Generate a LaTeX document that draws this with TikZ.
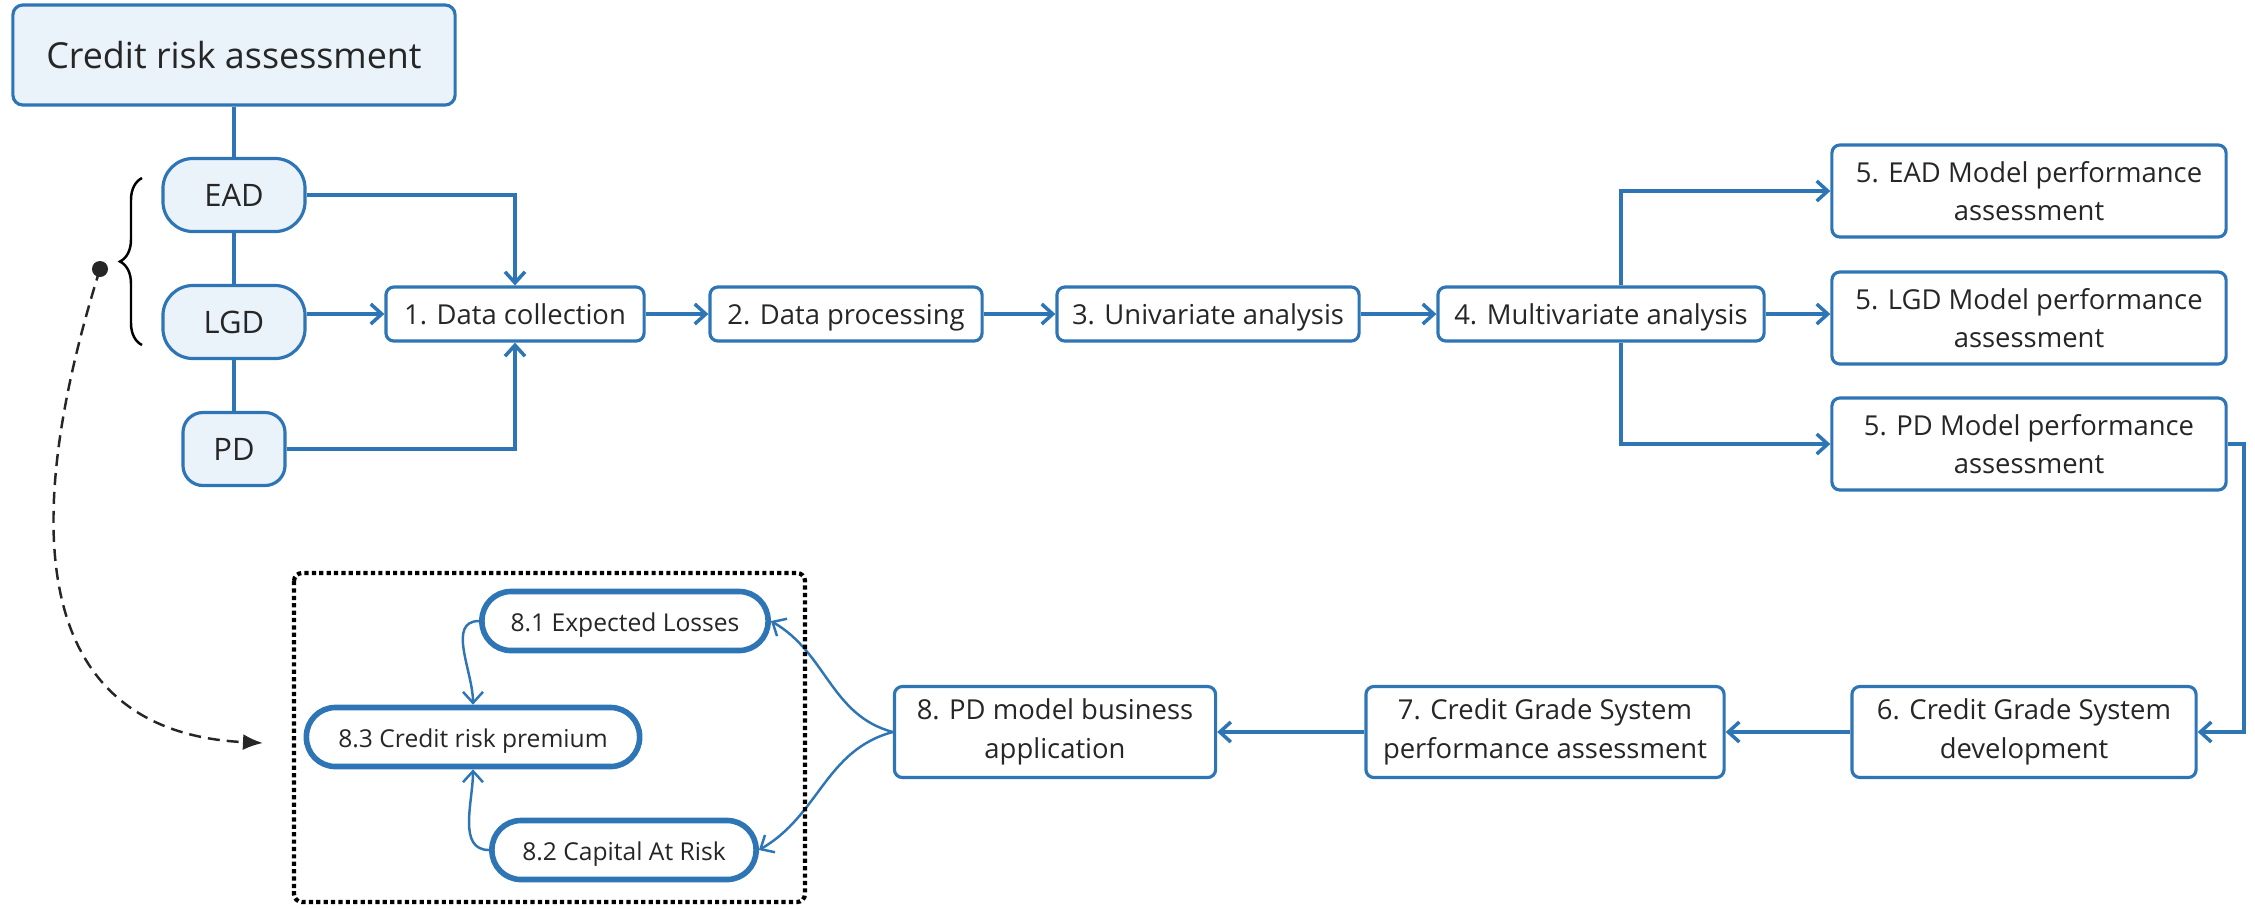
\documentclass[tikz,border=0pt]{standalone}
\usepackage{fontspec}
\setmainfont{Open Sans}
\usetikzlibrary{arrows.meta,decorations.pathreplacing}
\definecolor{boxblue}{RGB}{46,117,182}
\definecolor{boxfill}{RGB}{234,242,250}
\definecolor{inkgray}{RGB}{38,38,38}

\begin{document}
\begin{tikzpicture}[x=0.01cm, y=-0.01cm, text=inkgray,
        root/.style={draw=boxblue, fill=boxfill, line width=0.9pt, rounded corners=0.1cm, minimum width=4.42cm, minimum height=1cm, font=\fontsize{10.2}{12}\selectfont},
        risk/.style={draw=boxblue, fill=boxfill, line width=0.9pt, rounded corners=0.3cm, minimum width=1.42cm, minimum height=0.73cm, font=\fontsize{8.8}{10}\selectfont},
        stage/.style={draw=boxblue, fill=white, line width=0.9pt, rounded corners=0.08cm, inner sep=0pt, align=center, font=\fontsize{7.8}{11}\selectfont},
        onerow/.style={stage, minimum height=0.54cm, text height=1.5ex, text depth=0.35ex},
        usage/.style={draw=boxblue, fill=white, line width=1.6pt, rounded corners=0.29cm, minimum height=0.59cm, inner sep=0pt, text height=1.5ex, text depth=0.35ex, font=\fontsize{7}{8}\selectfont},
        link/.style={draw=boxblue, line width=1pt},
        flow/.style={link, -{Straight Barb[length=1.1mm,width=2mm]}},
        curvelink/.style={flow, line width=0.7pt},
        note/.style={draw=inkgray, line width=0.7pt, dash pattern=on 1.2mm off 0.7mm, -{Latex[length=2mm,width=1.6mm]}}]
        \useasboundingbox (0,0) rectangle (2255,908);

        \node[root] (CRA) at (234,55) {Credit risk assessment};
        \node[risk] (EAD) at (234,195) {EAD};
        \node[risk] (LGD) at (234,322) {LGD};
        \node[risk, minimum width=1.02cm, rounded corners=0.2cm] (PD) at (234,449) {PD};

        \node[onerow, minimum width=2.58cm] (S1) at (515,314) {1. Data collection};
        \node[onerow, minimum width=2.72cm] (S2) at (846,314) {2. Data processing};
        \node[onerow, minimum width=3.02cm] (S3) at (1208,314) {3. Univariate analysis};
        \node[onerow, minimum width=3.26cm] (S4) at (1601,314) {4. Multivariate analysis};

        \node[stage, minimum width=3.94cm, minimum height=0.92cm] (E5) at (2029,191) {5. EAD Model performance\\assessment};
        \node[stage, minimum width=3.94cm, minimum height=0.92cm] (L5) at (2029,318) {5. LGD Model performance\\assessment};
        \node[stage, minimum width=3.94cm, minimum height=0.92cm] (P5) at (2029,444) {5. PD Model performance\\assessment};

        \node[stage, minimum width=3.44cm, minimum height=0.91cm] (S6) at (2024,732) {6. Credit Grade System\\development};
        \node[stage, minimum width=3.58cm, minimum height=0.91cm] (S7) at (1545,732) {7. Credit Grade System\\performance assessment};
        \node[stage, minimum width=3.21cm, minimum height=0.91cm] (S8) at (1055,732) {8. PD model business\\application};

        \node[usage, minimum width=2.86cm] (E81) at (625,621) {8.1 Expected Losses};
        \node[usage, minimum width=2.64cm] (E82) at (624,850) {8.2 Capital At Risk};
        \node[usage, minimum width=3.33cm] (E83) at (473,737) {8.3 Credit risk premium};

        \draw[link] (CRA) -- (EAD) (EAD) -- (LGD) (LGD) -- (PD);
        \draw[flow] (EAD) -| (S1);
        \draw[flow] (LGD.east |- S1) -- (S1);
        \draw[flow] (PD) -| (S1);
        \draw[flow] (S1) -- (S2);
        \draw[flow] (S2) -- (S3);
        \draw[flow] (S3) -- (S4);
        \draw[flow] (S4) -- (S4 -| L5.west);

        \coordinate (BR) at (1621,314);
        \coordinate (RT) at (2244,444);
        \draw[flow] (BR |- S4.north) |- (E5);
        \draw[flow] (BR |- S4.south) |- (P5);
        \draw[flow] (P5) -- (RT) |- (S6);
        \draw[flow] (S6) -- (S7);
        \draw[flow] (S7) -- (S8);

        \draw[curvelink] (S8.west) to[out=165, in=-30] (E81.east);
        \draw[curvelink] (S8.west) to[out=195, in=30] (E82.east);
        \draw[curvelink] (E81.west) to[out=180, in=90] (E83.north);
        \draw[curvelink] (E82.west) to[out=180, in=-90] (E83.south);

        \draw[black, line width=1.2pt, dash pattern=on 1.2pt off 0.9pt, rounded corners=0.08cm] (294,573) rectangle (805,902);

        \coordinate (DOT) at (100,269);
        \coordinate (TIP) at (263,743);
        \fill[inkgray] (DOT) circle (0.08cm);
        \draw[note] (DOT) .. controls (-10,620) and (90,735) .. (TIP);
        \draw[black, line width=0.7pt, decorate, decoration={brace, amplitude=0.22cm}] (142,345) -- (142,178);
\end{tikzpicture}
\end{document}
